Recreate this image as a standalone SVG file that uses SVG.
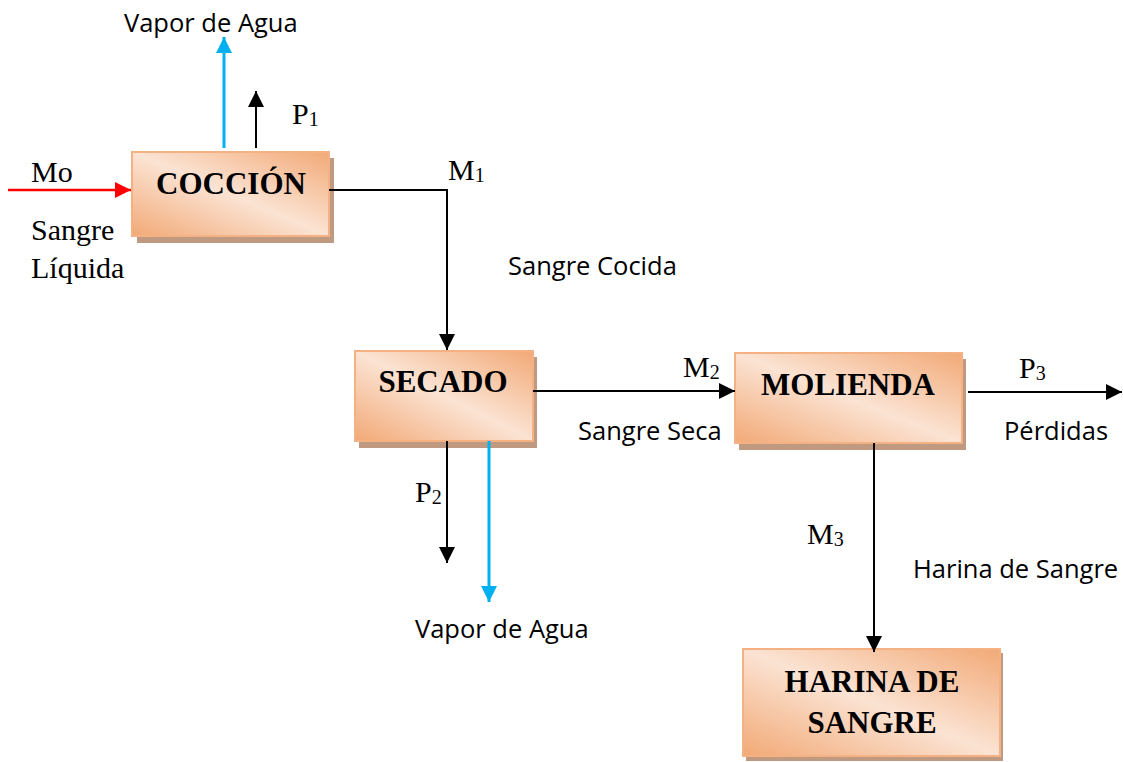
<svg xmlns="http://www.w3.org/2000/svg" width="1123" height="762" viewBox="0 0 1123 762">
<defs>
<linearGradient id="g" x1="0" y1="1" x2="1" y2="0">
<stop offset="0" stop-color="#f2a976"/>
<stop offset="0.5" stop-color="#fbe3d3"/>
<stop offset="1" stop-color="#f2a976"/>
</linearGradient>
<marker id="abk" viewBox="0 0 10 10" refX="10" refY="5" markerWidth="16" markerHeight="16" markerUnits="userSpaceOnUse" orient="auto"><path d="M0,0L10,5L0,10z" fill="#000"/></marker>
<marker id="ablue" viewBox="0 0 10 10" refX="10" refY="5" markerWidth="16" markerHeight="16" markerUnits="userSpaceOnUse" orient="auto"><path d="M0,0L10,5L0,10z" fill="#00b0f0"/></marker>
<marker id="ared" viewBox="0 0 10 10" refX="10" refY="5" markerWidth="16" markerHeight="16" markerUnits="userSpaceOnUse" orient="auto"><path d="M0,0L10,5L0,10z" fill="#ff0000"/></marker>
</defs>
<style>
.sh{fill:#c09a80}
.bx{fill:url(#g);stroke:#f4b183;stroke-width:2}
.bt{font-family:"Liberation Serif",serif;font-weight:bold;font-size:31px;fill:#000;text-anchor:middle}
.st{font-family:"Liberation Serif",serif;font-size:30px;fill:#000}
.sub{font-size:20px}
.ct{font-family:"Open Sans",sans-serif;font-size:25.5px;fill:#000}
.k{stroke:#000;stroke-width:2;fill:none}
.b{stroke:#00b0f0;stroke-width:3;fill:none}
.r{stroke:#ff0000;stroke-width:2.5;fill:none}
</style>
<g id="coccion">
<rect class="sh" x="137" y="158" width="197" height="85"/>
<rect class="bx" x="132" y="152" width="197" height="84"/>
<text class="bt" x="231" y="194">COCCIÓN</text>
</g>
<g id="secado">
<rect class="sh" x="359" y="357" width="178" height="91"/>
<rect class="bx" x="355" y="351" width="178" height="90"/>
<text class="bt" x="443" y="392">SECADO</text>
</g>
<g id="molienda">
<rect class="sh" x="739" y="359" width="227" height="91"/>
<rect class="bx" x="735" y="353" width="227" height="90"/>
<text class="bt" x="848" y="395">MOLIENDA</text>
</g>
<g id="harina">
<rect class="sh" x="746" y="653" width="257" height="108"/>
<rect class="bx" x="743" y="649" width="257" height="107"/>
<text class="bt" x="872" y="692">HARINA DE</text>
<text class="bt" x="872" y="733">SANGRE</text>
</g>
<g id="connectors">
<line class="r" x1="8" y1="190" x2="131" y2="190" marker-end="url(#ared)"/>
<line class="b" x1="224" y1="148" x2="224" y2="37" marker-end="url(#ablue)"/>
<line class="k" x1="256" y1="148" x2="256" y2="91" marker-end="url(#abk)"/>
<polyline class="k" points="329,190 447,190 447,350" marker-end="url(#abk)"/>
<line class="k" x1="533" y1="391" x2="735" y2="391" marker-end="url(#abk)"/>
<line class="k" x1="447" y1="441" x2="447" y2="563" marker-end="url(#abk)"/>
<line class="b" x1="489" y1="441" x2="489" y2="602" marker-end="url(#ablue)"/>
<line class="k" x1="968" y1="392" x2="1122" y2="392" marker-end="url(#abk)"/>
<line class="k" x1="874" y1="443" x2="874" y2="652" marker-end="url(#abk)"/>
</g>
<g id="labels">
<text class="ct" x="124" y="32">Vapor de Agua</text>
<text class="st" x="292" y="124">P<tspan class="sub" dy="2">1</tspan></text>
<text class="st" x="31" y="182">Mo</text>
<text class="st" x="31" y="240">Sangre</text>
<text class="st" x="31" y="278">Líquida</text>
<text class="st" x="448" y="180">M<tspan class="sub" dy="2">1</tspan></text>
<text class="ct" x="508" y="275">Sangre Cocida</text>
<text class="st" x="683" y="377">M<tspan class="sub" dy="2">2</tspan></text>
<text class="ct" x="578" y="440">Sangre Seca</text>
<text class="st" x="415" y="502">P<tspan class="sub" dy="2">2</tspan></text>
<text class="ct" x="415" y="638">Vapor de Agua</text>
<text class="st" x="1019" y="378">P<tspan class="sub" dy="2">3</tspan></text>
<text class="ct" x="1004" y="440">Pérdidas</text>
<text class="st" x="807" y="544">M<tspan class="sub" dy="2">3</tspan></text>
<text class="ct" x="913" y="578">Harina de Sangre</text>
</g>
</svg>
